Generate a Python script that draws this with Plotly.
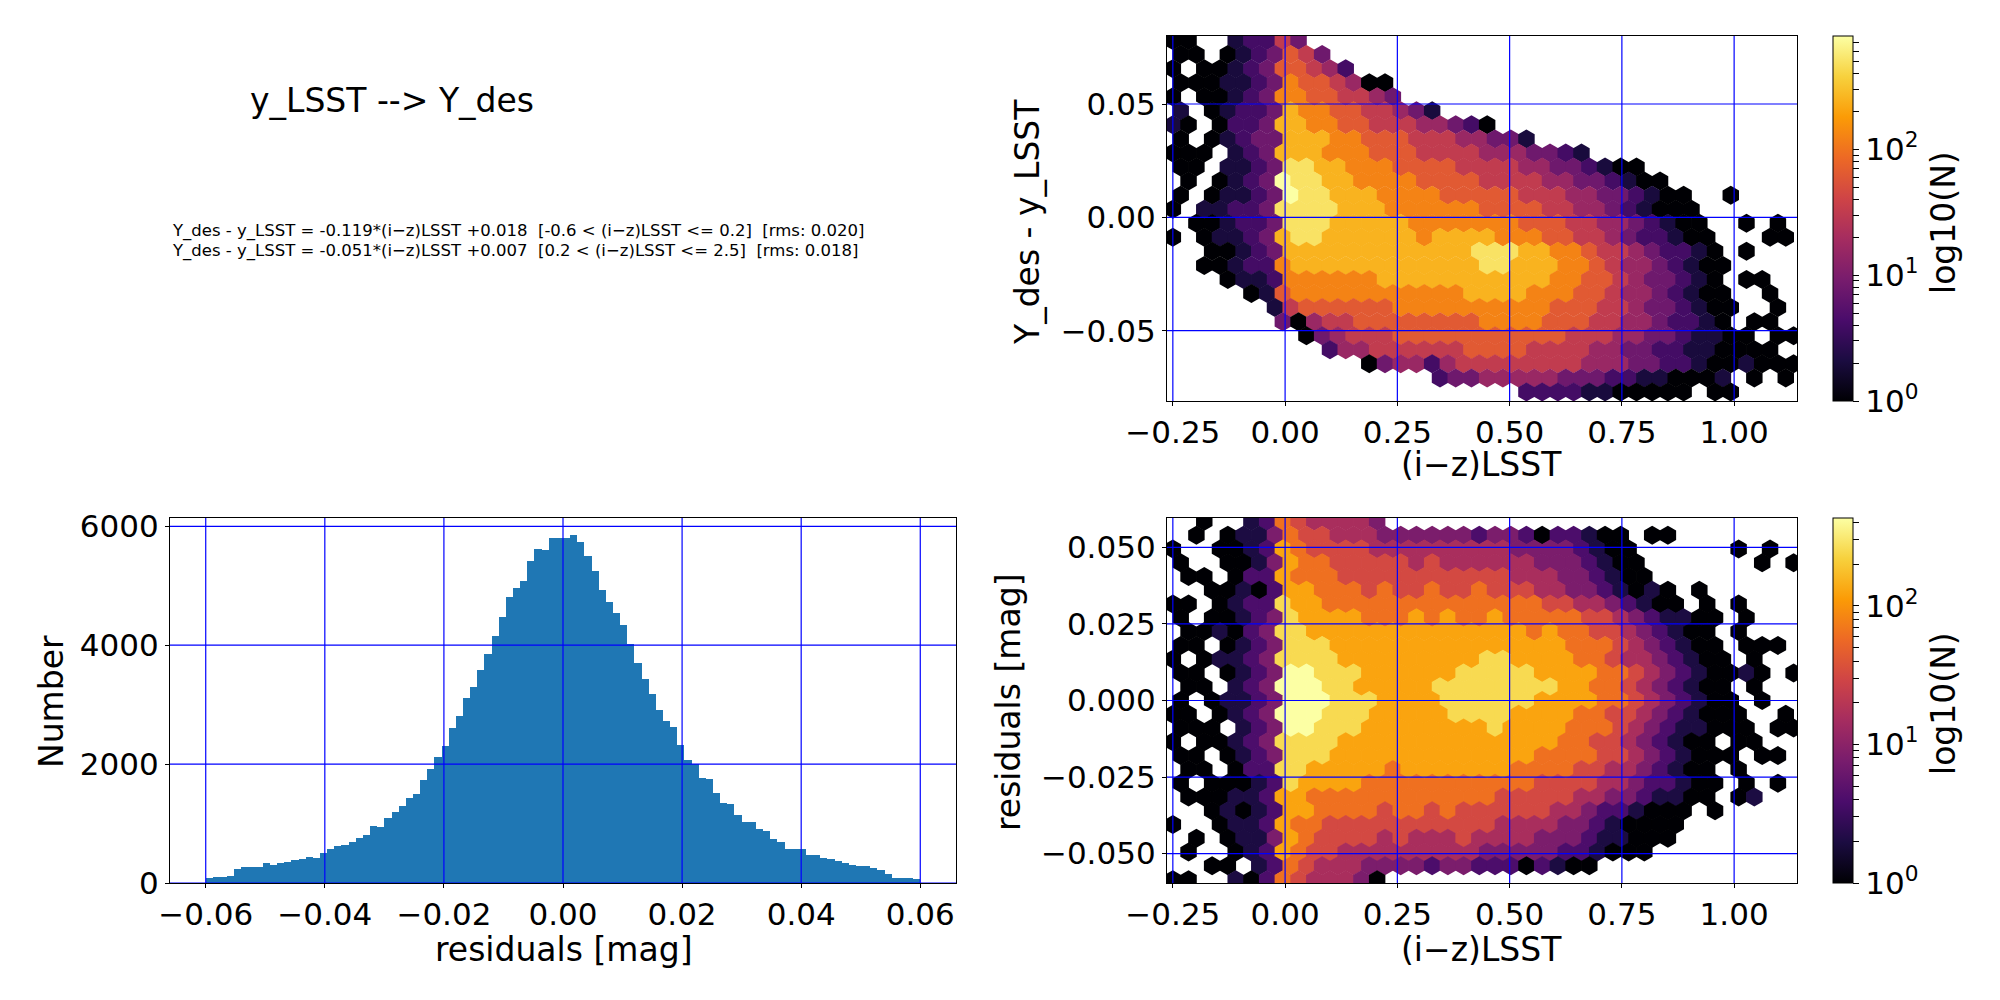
"""Colour-term fit y_LSST -> Y_des: residual histogram and two hexbin density maps."""
import numpy as np
import plotly.graph_objects as go

# ---------------------------------------------------------------- text
TITLE = "y_LSST --> Y_des"
FIT_LINES = [
    "Y_des - y_LSST = -0.119*(i−z)LSST +0.018  [-0.6 &lt; (i−z)LSST &lt;= 0.2]  [rms: 0.020]",
    "Y_des - y_LSST = -0.051*(i−z)LSST +0.007  [0.2 &lt; (i−z)LSST &lt;= 2.5]  [rms: 0.018]",
]
COLOR_LABEL = "(i−z)LSST"
DIFF_LABEL = "Y_des - y_LSST"
RESID_LABEL = "residuals [mag]"
COUNT_LABEL = "Number"
CBAR_LABEL = "log10(N)"

# ---------------------------------------------------------------- histogram of residuals
HIST_RANGE = (-0.06, 0.06)
HIST_COUNTS = [
    84, 106, 106, 123, 241, 274, 274, 274, 342, 308,
    342, 358, 392, 409, 443, 426, 510, 577, 627, 644,
    695, 762, 812, 964, 947, 1098, 1199, 1300, 1434, 1501,
    1737, 1921, 2123, 2308, 2611, 2812, 3115, 3300, 3585, 3854,
    4157, 4476, 4812, 4963, 5081, 5417, 5619, 5602, 5804, 5804,
    5804, 5854, 5736, 5501, 5249, 4930, 4728, 4543, 4342, 4022,
    3703, 3434, 3182, 2913, 2728, 2627, 2325, 2073, 2000, 1770,
    1753, 1518, 1350, 1333, 1148, 1031, 1031, 913, 880, 745,
    695, 577, 577, 577, 476, 476, 426, 409, 375, 342,
    308, 291, 291, 258, 224, 157, 90, 90, 90, 73,
]
HIST_XTICKS = [-0.06, -0.04, -0.02, 0.0, 0.02, 0.04, 0.06]
HIST_YTICKS = [0, 2000, 4000, 6000]

# ---------------------------------------------------------------- hexbin maps
# one string per hexagon row (top row first), one character per cell:
# "." = empty, hex digit d = log10(N) of d * LOG_STEP
LOG_STEP = 0.30
N_COLS = 40

DIFF_HEX = [
    "00..12253",
    "00.0123653",
    "0.0012366542",
    "00011237665400",
    "0.0012377665543",
    "1.012238776655431",
    "10.022388776655544320",
    "0.012338887766655544331",
    "000.12388877766655554443321",
    "00.112399887776666555544332100",
    ".0.0123a998877776666555544332100",
    "0.01123a9988877776666655544332100..0",
    "0.11223999988877777766665544321000",
    ".001223999888887777777666554432100..0.0.",
    "0.011238998888887888877766554322100...00",
    "..001238888888888889998877655432210.0...",
    "..0012278888888888889988877654432100",
    "...01127777778888888888877665433210.00..",
    ".....0167777777777788887776654432100..0..",
    "......156666667777777777666554332100..0.",
    ".......30455666666667777666554432210.00.",
    "........03455566666666666555443321100.00",
    "..........24455555566665555443322110000",
    "............0344245555555544433221001000",
    ".................233444443332211000" + "1.0.0",
    "......................22221100000.00",
]

RESID_HEX = [
    "..0..126544443",
    ".0.01136554443333332332022100.00",
    "0..001276555544444444433332100......0.0.",
    "0..001376655555454444443332100.......0.0",
    ".00.022766655555555555444332100",
    "..001027766656556556555443321010.0",
    "00.0122" + "877666666666666" + "66554432100.0.0...",
    "0.00123" + "87777666767667666" + "66554321100.0",
    ".001023" + "88777777777777776" + "76655432100.0",
    "00.0123" + "88877777777777777" + "76665432100.000",
    "0.01123" + "88887777777778877" + "776654432100.0",
    "00.0123" + "99888777777888887" + "77766543210010.0",
    ".00.123" + "99988777778888888" + "877665432100.0",
    "0.01123" + "99988877778888887" + "777665432100.0",
    "00.0123" + "99988877777888877" + "7766554321000..0",
    "000.123" + "99888777777778777" + "7666543211000.00",
    "0.00123" + "88887777777777777" + "76655432100.00",
    "00.0123" + "88877777777777776" + "666554321000.00",
    ".00.022" + "88777776777777766" + "66554432100.0",
    "0.00012" + "87777666666666665" + "55544322100.0.0",
    ".000112" + "77666666666666555" + "55443321100.01.",
    "..0101277666656656555555443221000.0",
    "0..011276655555555555444433210000",
    ".0.01137655554544454444333211000",
    ".0..012765544444444433333221000",
    "..00.1265444333323322202100",
    "00..1026544430",
]

COLOR_TICKS = [-0.25, 0.0, 0.25, 0.5, 0.75, 1.0]
DIFF_TICKS = [-0.05, 0.0, 0.05]
RESID_TICKS = [-0.05, -0.025, 0.0, 0.025, 0.05]
CBAR_DECADES = [0, 1, 2]

# ---------------------------------------------------------------- geometry
FIG_W, FIG_H, PAGE_PAD = 1984, 984, 8
HEX_X0, HEX_DX = -0.25, 0.035
DIFF_Y0, DIFF_DY = 0.078, 0.0062
RESID_Y0, RESID_DY = 0.0585, 0.0045
COLOR_RANGE = [-0.263, 1.14]
DIFF_RANGE = [-0.081, 0.08]
RESID_RANGE = [-0.0596, 0.0596]
DIFF_CMAX, RESID_CMAX = 2.9, 2.635

FONT = "DejaVu Sans"
TICK_SIZE = 31
LABEL_SIZE = 33
GRID = dict(color="#0000ff", width=1.2)


def px_x(x):
    """Pixel column of the 2000x1000 page -> paper x."""
    return (x - PAGE_PAD) / FIG_W


def px_y(y):
    """Pixel row of the 2000x1000 page -> paper y."""
    return 1 - (y - PAGE_PAD) / FIG_H


def hex_cells(rows, y0, dy):
    """Turn the hexagon row strings into x, y and log10(N) lists."""
    xs, ys, zs = [], [], []
    for j, row in enumerate(rows):
        shift = HEX_DX / 2 if j % 2 else 0.0
        for i, ch in enumerate(row.ljust(N_COLS, ".")[:N_COLS]):
            if ch == ".":
                continue
            xs.append(HEX_X0 + i * HEX_DX + shift)
            ys.append(y0 - j * dy)
            zs.append(int(ch, 16) * LOG_STEP)
    return xs, ys, zs


def colorbar(cmax, center_row):
    """Log colorbar with 10^n labels and unlabelled minor ticks."""
    vals, text = [], []
    for d in CBAR_DECADES:
        for m in range(1, 10):
            v = d + np.log10(m)
            if v <= cmax:
                vals.append(v)
                text.append(f"10<sup>{d}</sup>" if m == 1 else "")
    return dict(
        tickvals=vals, ticktext=text, ticks="outside", ticklen=6,
        tickwidth=1.2, tickcolor="black",
        tickfont=dict(size=TICK_SIZE, color="black"),
        thickness=20, thicknessmode="pixels", len=365, lenmode="pixels",
        x=px_x(1833), xanchor="left", xpad=0,
        y=px_y(center_row), yanchor="middle", ypad=0,
        outlinewidth=1, outlinecolor="black",
    )


def hex_trace(rows, y0, dy, cmax, cb_row, xaxis, yaxis):
    xs, ys, zs = hex_cells(rows, y0, dy)
    return go.Scatter(
        x=xs, y=ys, mode="markers", xaxis=xaxis, yaxis=yaxis,
        marker=dict(
            symbol="hexagon", size=19, color=zs, colorscale="Inferno",
            cmin=0, cmax=cmax, line=dict(width=0),
            colorbar=colorbar(cmax, cb_row),
        ),
        showlegend=False, hoverinfo="skip",
    )


def axis(left, right, top, bottom, rng, ticks, fmt, anchor):
    return dict(
        domain=[px_x(left), px_x(right)] if anchor.startswith("y") else [px_y(bottom), px_y(top)],
        range=rng, tickvals=ticks, tickformat=fmt, anchor=anchor,
        ticks="outside", ticklen=4, tickwidth=1.3, tickcolor="black",
        showline=True, linecolor="black", linewidth=1.3, mirror=True,
        showgrid=False, zeroline=False, automargin=False,
        tickfont=dict(size=TICK_SIZE, color="black"),
    )


def add_grid(fig, xref, yref, xticks, yticks):
    for v in xticks:
        fig.add_shape(type="line", xref=xref, yref=f"{yref} domain",
                      x0=v, x1=v, y0=0, y1=1, line=GRID, layer="above")
    for v in yticks:
        fig.add_shape(type="line", xref=f"{xref} domain", yref=yref,
                      x0=0, x1=1, y0=v, y1=v, line=GRID, layer="above")


def label(text, x, y, size=LABEL_SIZE, angle=0, xanchor="center"):
    return dict(text=text, x=px_x(x), y=px_y(y), xref="paper", yref="paper",
                xanchor=xanchor, yanchor="middle", textangle=angle,
                showarrow=False, font=dict(size=size, color="black"))


def create_plot():
    edges = np.linspace(HIST_RANGE[0], HIST_RANGE[1], len(HIST_COUNTS) + 1)
    centers = (edges[:-1] + edges[1:]) / 2

    fig = go.Figure()
    fig.add_trace(go.Bar(x=centers, y=HIST_COUNTS, width=edges[1] - edges[0],
                         marker=dict(color="#1f77b4", line=dict(width=0)),
                         xaxis="x", yaxis="y", showlegend=False, hoverinfo="skip"))
    fig.add_trace(hex_trace(DIFF_HEX, DIFF_Y0, DIFF_DY, DIFF_CMAX, 218.5, "x2", "y2"))
    fig.add_trace(hex_trace(RESID_HEX, RESID_Y0, RESID_DY, RESID_CMAX, 700.5, "x3", "y3"))

    hist_range = [HIST_RANGE[0] - 0.006, HIST_RANGE[1] + 0.006]
    fig.update_layout(
        width=FIG_W, height=FIG_H, autosize=False,
        margin=dict(l=0, r=0, t=0, b=0, autoexpand=False),
        paper_bgcolor="white", plot_bgcolor="white",
        font=dict(family=FONT, color="black"),
        bargap=0, showlegend=False,
        xaxis=axis(170, 956, 518, 883, hist_range, HIST_XTICKS, ".2f", "y"),
        yaxis=axis(170, 956, 518, 883, [0, 6140], HIST_YTICKS, "d", "x"),
        xaxis2=axis(1167, 1797, 36, 401, COLOR_RANGE, COLOR_TICKS, ".2f", "y2"),
        yaxis2=axis(1167, 1797, 36, 401, DIFF_RANGE, DIFF_TICKS, ".2f", "x2"),
        xaxis3=axis(1167, 1797, 518, 883, COLOR_RANGE, COLOR_TICKS, ".2f", "y3"),
        yaxis3=axis(1167, 1797, 518, 883, RESID_RANGE, RESID_TICKS, ".3f", "x3"),
    )

    add_grid(fig, "x", "y", HIST_XTICKS, HIST_YTICKS)
    add_grid(fig, "x2", "y2", COLOR_TICKS, DIFF_TICKS)
    add_grid(fig, "x3", "y3", COLOR_TICKS, RESID_TICKS)

    notes = [
        label(TITLE, 392, 100),
        label(COUNT_LABEL, 51, 702, angle=-90),
        label(RESID_LABEL, 564, 949),
        label(DIFF_LABEL, 1027, 222, angle=-90),
        label(COLOR_LABEL, 1481, 465),
        label(RESID_LABEL, 1008, 702, angle=-90),
        label(COLOR_LABEL, 1481, 949),
        label(CBAR_LABEL, 1943, 223, angle=-90),
        label(CBAR_LABEL, 1943, 704, angle=-90),
    ]
    for row, line in zip([231, 251], FIT_LINES):
        notes.append(label(line.replace("  ", " \u00a0"), 170, row, size=16.5, xanchor="left"))
    fig.update_layout(annotations=notes)
    return fig


fig = create_plot()
fig.write_html("out.html", config={"displayModeBar": False})
